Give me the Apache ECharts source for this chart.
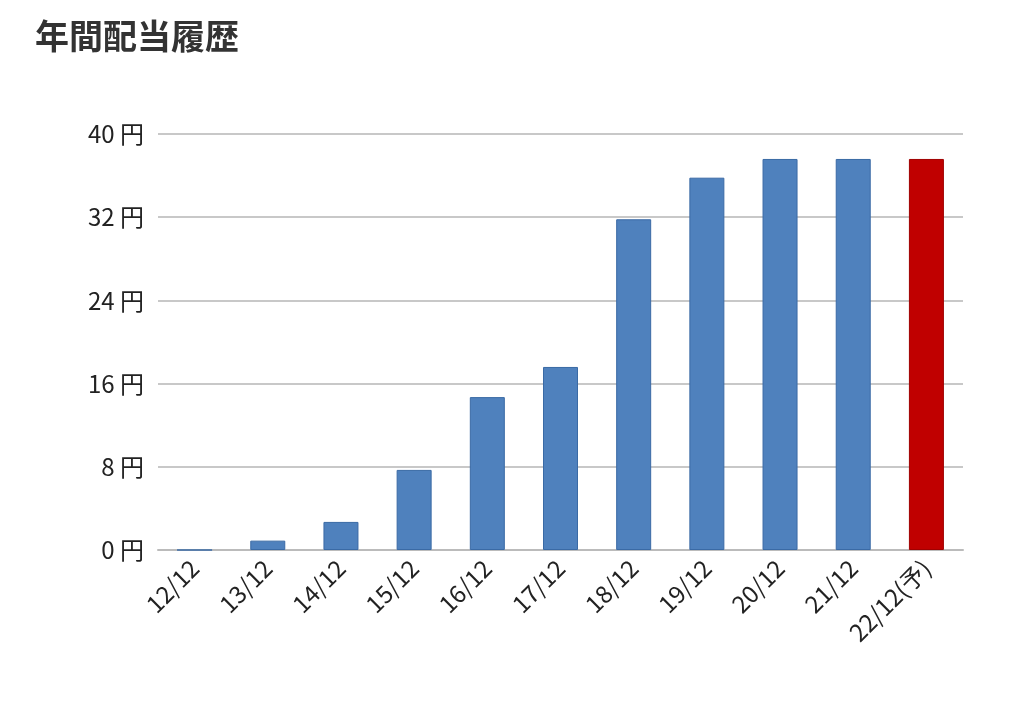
<html>
<meta charset="utf-8">
<body style="margin:0;background:#fff">
<div id="main" style="width:1024px;height:715px;"></div>
</body>
<script src="https://cdn.jsdelivr.net/npm/echarts@6/dist/echarts.min.js"></script>
<script>
var categories = ['12/12','13/12','14/12','15/12','16/12','17/12','18/12','19/12','20/12','21/12','22/12(予)'];
var dividends = [0, 0.9, 2.7, 7.7, 14.7, 17.6, 31.8, 35.8, 37.6, 37.6, 37.6];
var forecastIndex = 10;

var chart = echarts.init(document.getElementById('main'));
var font = '"Noto Sans CJK JP", sans-serif';
chart.setOption({
    animation: false,
    title: {
        text: '年間配当履歴', left: 30, top: 14,
        textStyle: {fontSize: 34, fontWeight: 'bold', color: '#333', fontFamily: font}
    },
    grid: {left: 158, right: 61, top: 134, bottom: 165},
    xAxis: {
        type: 'category',
        data: categories,
        axisLine: {lineStyle: {color: '#bbb', width: 2}},
        axisTick: {inside: true, length: 20, lineStyle: {color: '#bbb', width: 2}},
        axisLabel: {rotate: 45, fontSize: 24, color: '#222', fontFamily: font, margin: 14}
    },
    yAxis: {
        type: 'value', min: 0, max: 40, interval: 8,
        axisLabel: {formatter: '{value} 円', fontSize: 24, color: '#222', fontFamily: font, margin: 14},
        splitLine: {lineStyle: {color: '#c8c8c8', width: 2}}
    },
    series: [{
        type: 'bar',
        barWidth: 35,
        data: dividends.map(function (v, i) {
            return i === forecastIndex
                ? {value: v, itemStyle: {color: '#c00000', borderColor: '#a00000'}}
                : v;
        }),
        itemStyle: {color: '#4f81bd', borderColor: '#3a6aa5', borderWidth: 1}
    }]
});
</script>
</html>
